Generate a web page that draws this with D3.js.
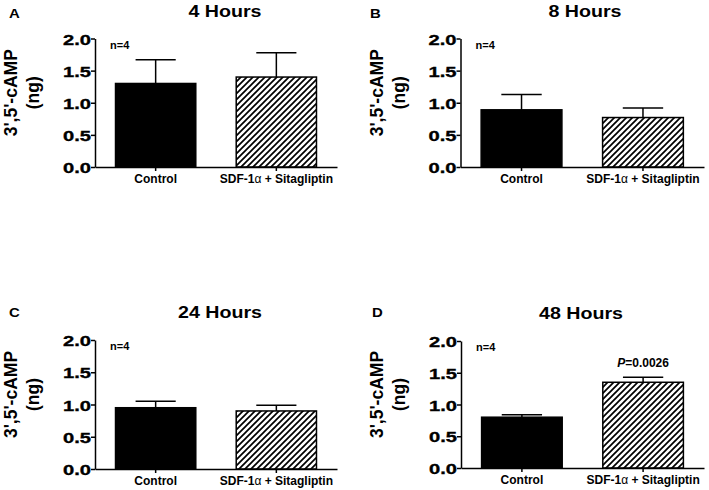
<!DOCTYPE html>
<html><head><meta charset="utf-8">
<script src="https://cdn.jsdelivr.net/npm/d3@7"></script>
<style>
body{margin:0;background:#fff}
svg{display:block}
text{font-family:"Liberation Sans",Arial,Helvetica,sans-serif;font-weight:bold;fill:#000}
</style>
</head><body>
<svg id="c" width="709" height="490"></svg>
<script>
// ---- data ----
const categories = ["Control", "SDF-1α + Sitagliptin"];
const panelLetters = ["A", "B", "C", "D"];
const panelTitles = ["4 Hours", "8 Hours", "24 Hours", "48 Hours"];
const controlMeans = [1.30, 0.89, 0.95, 0.80];
const controlErrs  = [0.37, 0.24, 0.10, 0.04];
const sitaMeans    = [1.40, 0.77, 0.90, 1.35];
const sitaErrs     = [0.38, 0.15, 0.09, 0.08];
const nLabels      = ["n=4", "n=4", "n=4", "n=4"];
const pLabels      = [null, null, null, "0.0026"];
const yTicks       = [0.0, 0.5, 1.0, 1.5, 2.0];
const yDomain      = [0, 2];
const yLabelLines  = ["3',5'-cAMP", "(ng)"];

// ---- layout ----
const layouts = [
  {x0:95,   x1:337, yT:38.5, yB:167, tx:225, ty:17,  lx:9,   ly:18},
  {x0:460.5,x1:704, yT:38.5, yB:167, tx:585, ty:17,  lx:370, ly:18},
  {x0:95,   x1:337, yT:340,  yB:469, tx:220, ty:318, lx:9,   ly:317},
  {x0:461,  x1:704, yT:341,  yB:468, tx:581, ty:319, lx:372, ly:317}
];

const svg = d3.select("#c");
const defs = svg.append("defs");
const pat = defs.append("pattern").attr("id","hatch")
  .attr("patternUnits","userSpaceOnUse").attr("width",6).attr("height",6);
pat.append("rect").attr("width",6).attr("height",6).attr("fill","#fff");
pat.append("path").attr("d","M-1,1 L1,-1 M0,6 L6,0 M5,7 L7,5")
  .attr("stroke","#000").attr("stroke-width",1.7);

const TICK_SX = 1.3, TITLE_SX = 1.19;

layouts.forEach((L, i) => {
  const g = svg.append("g");
  const y = d3.scaleLinear().domain(yDomain).range([L.yB, L.yT]);
  const x = d3.scaleBand().domain(categories).range([L.x0, L.x1])
    .paddingInner(0.335).paddingOuter(0.17);
  const bw = x.bandwidth();
  const rows = [
    {cat: categories[0], v: controlMeans[i], e: controlErrs[i], fill: "#000"},
    {cat: categories[1], v: sitaMeans[i],    e: sitaErrs[i],    fill: "url(#hatch)"}
  ];

  // error bars (upper only)
  const eb = g.selectAll(".eb").data(rows).enter().append("g");
  eb.append("line")
    .attr("x1", d => x(d.cat) + bw/2).attr("x2", d => x(d.cat) + bw/2)
    .attr("y1", d => y(d.v)).attr("y2", d => y(d.v + d.e))
    .attr("stroke","#000").attr("stroke-width",1.5);
  eb.append("line")
    .attr("x1", d => x(d.cat) + bw/4).attr("x2", d => x(d.cat) + 3*bw/4)
    .attr("y1", d => y(d.v + d.e)).attr("y2", d => y(d.v + d.e))
    .attr("stroke","#000").attr("stroke-width",1.5);

  // bars
  g.selectAll(".bar").data(rows).enter().append("rect")
    .attr("x", d => x(d.cat)).attr("y", d => y(d.v))
    .attr("width", bw).attr("height", d => y(0) - y(d.v))
    .attr("fill", d => d.fill).attr("stroke","#000").attr("stroke-width",1.5);

  // y axis
  const ya = g.append("g").attr("transform", `translate(${L.x0},0)`)
    .call(d3.axisLeft(y).tickValues(yTicks).tickSize(4).tickSizeOuter(0)
      .tickFormat(d3.format(".1f")));
  ya.select(".domain").attr("stroke-width",1.5);
  ya.selectAll(".tick line").attr("stroke-width",1.5);
  ya.selectAll(".tick text")
    .attr("x", -4/TICK_SX).attr("dy","0.36em")
    .attr("transform", `scale(${TICK_SX},1)`)
    .style("font-size","15.5px").style("font-family",'"Liberation Sans",Arial,sans-serif')
    .style("font-weight","bold").attr("stroke","#000").attr("stroke-width",0.35);

  // x axis
  const xa = g.append("g").attr("transform", `translate(0,${L.yB})`)
    .call(d3.axisBottom(x).tickSize(4).tickSizeOuter(0));
  xa.select(".domain").attr("stroke-width",1.5);
  xa.selectAll(".tick line").attr("stroke-width",1.5);
  xa.selectAll(".tick text")
    .style("font-size","12px").style("font-family",'"Liberation Sans",Arial,sans-serif')
    .style("font-weight","bold")
    .each(function(d){
      const t = d3.select(this);
      if (d.includes("α")) {
        const parts = d.split("α");
        t.text(null);
        t.append("tspan").text(parts[0]);
        t.append("tspan").text("α").style("font-weight","normal");
        t.append("tspan").text(parts[1]);
      }
    });

  // y label
  const cy = (L.yT + L.yB)/2 - 10;
  g.append("text").attr("transform", `translate(${L.x0-78},${cy}) rotate(-90)`)
    .attr("text-anchor","middle").style("font-size","17.5px").text(yLabelLines[0]);
  g.append("text").attr("transform", `translate(${L.x0-56},${cy}) rotate(-90)`)
    .attr("text-anchor","middle").style("font-size","17.5px").text(yLabelLines[1]);

  // n label
  g.append("text").attr("x", L.x0 + 15).attr("y", L.yT + 10)
    .style("font-size","11px").text(nLabels[i]);

  // P label
  if (pLabels[i]) {
    const r = rows[1];
    const pt = g.append("text").attr("x", x(r.cat) + bw/2).attr("y", y(r.v + r.e) - 10)
      .attr("text-anchor","middle").style("font-size","12px");
    pt.append("tspan").text("P").style("font-style","italic");
    pt.append("tspan").text("=" + pLabels[i]);
  }

  // title
  g.append("text").attr("transform", `translate(${L.tx},${L.ty}) scale(${TITLE_SX},1)`)
    .attr("text-anchor","middle").style("font-size","16.5px").text(panelTitles[i]);

  // panel letter
  g.append("text").attr("transform", `translate(${L.lx},${L.ly}) scale(1.15,1)`)
    .style("font-size","13px").text(panelLetters[i]);
});
</script>
</body></html>
